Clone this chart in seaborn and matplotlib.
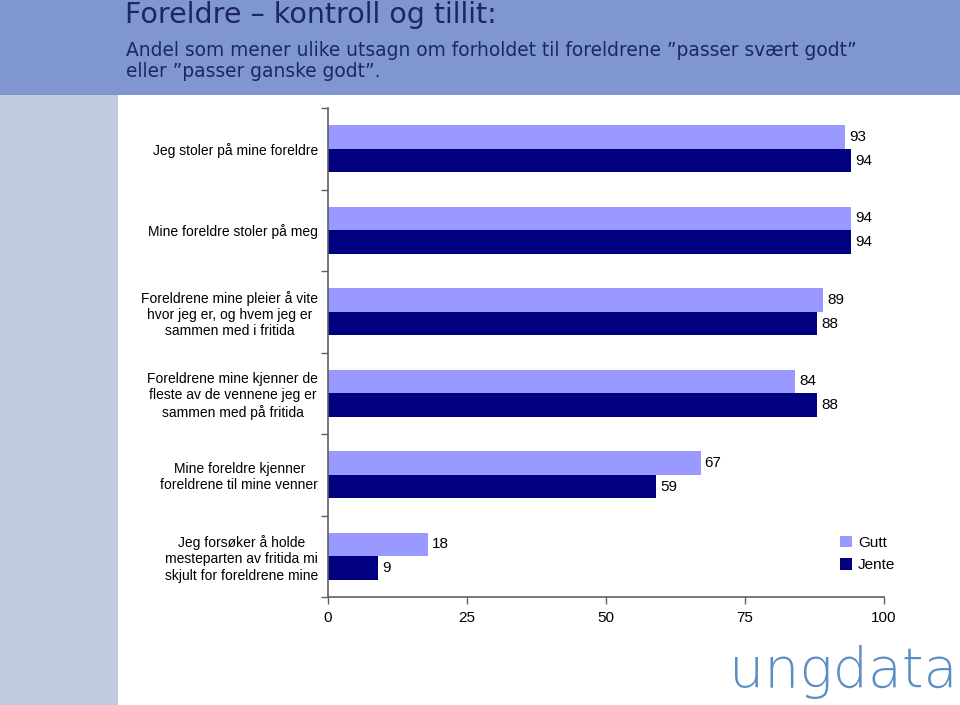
import pandas as pd
import seaborn as sns
import matplotlib.pyplot as plt
from matplotlib.patches import Rectangle


# DATA

categories = [
    "Jeg stoler på mine foreldre",
    "Mine foreldre stoler på meg",
    "Foreldrene mine pleier å vite\nhvor jeg er, og hvem jeg er\nsammen med i fritida",
    "Foreldrene mine kjenner de\nfleste av de vennene jeg er\nsammen med på fritida",
    "Mine foreldre kjenner\nforeldrene til mine venner",
    "Jeg forsøker å holde\nmesteparten av fritida mi\nskjult for foreldrene mine",
]
gutt = [93, 94, 89, 84, 67, 18]
jente = [94, 94, 88, 88, 59, 9]
groups = ["Gutt", "Jente"]
x_ticks = [0, 25, 50, 75, 100]

title = "Foreldre – kontroll og tillit:"
subtitle = "Andel som mener ulike utsagn om forholdet til foreldrene ”passer svært godt”\neller ”passer ganske godt”."

# long form for seaborn
df = pd.DataFrame({
    "utsagn": categories * 2,
    "andel": gutt + jente,
    "kjonn": [groups[0]] * len(categories) + [groups[1]] * len(categories),
})


# FIGURE

sns.set_style("white")
plt.rcParams["font.family"] = ["Liberation Sans", "DejaVu Sans"]

fig = plt.figure(figsize=(9.6, 7.05), dpi=100)
fig.patch.set_facecolor("white")

# header band and left strip
fig.patches.append(Rectangle((0, 1 - 95 / 705), 1, 95 / 705, transform=fig.transFigure,
                             facecolor="#8096d0", edgecolor="none", zorder=0))
fig.patches.append(Rectangle((0, 0), 118 / 960, 1 - 95 / 705, transform=fig.transFigure,
                             facecolor="#c2cadf", edgecolor="none", zorder=0))

fig.text(125 / 960, 1 - 15 / 705, title, family="DejaVu Sans", fontsize=20.5,
         color="#1c2566", va="center", ha="left")
fig.text(126 / 960, 1 - 61 / 705, subtitle, family="DejaVu Sans", fontsize=13.4,
         color="#1c2566", va="center", ha="left", linespacing=1.15)

# logo
fig.text(0.997, 1 - 672 / 705, "ungdata", family="DejaVu Sans", fontsize=40,
         color="#5b8ec6", va="center", ha="right", fontweight="light")

ax = fig.add_axes([328 / 960, 1 - 597 / 705, 556 / 960, 489 / 705])
ax.set_facecolor("white")

sns.barplot(data=df, y="utsagn", x="andel", hue="kjonn", orient="h",
            palette=["#9999ff", "#000080"], width=0.58, saturation=1,
            edgecolor="none", ax=ax)

for cont in ax.containers:
    ax.bar_label(cont, padding=3, fontsize=11, color="black")

ax.set_xlim(0, 100)
ax.set_ylim(len(categories) - 0.5, -0.5)
ax.set_xticks(x_ticks)
ax.set_xticklabels([str(t) for t in x_ticks], fontsize=11, color="black")
ax.set_yticks(range(len(categories)))
ax.set_yticklabels(categories, fontsize=10, multialignment="center", color="black")
ax.set_yticks([i - 0.5 for i in range(len(categories) + 1)], minor=True)
ax.tick_params(axis="y", which="major", length=0, pad=7)
ax.tick_params(axis="y", which="minor", length=5, width=1, color="#606060", direction="out", left=True)
ax.tick_params(axis="x", length=5, width=1, color="#606060", direction="out", bottom=True, pad=5)
ax.set_xlabel("")
ax.set_ylabel("")

for side in ["top", "right"]:
    ax.spines[side].set_visible(False)
for side in ["left", "bottom"]:
    ax.spines[side].set_color("#606060")
    ax.spines[side].set_linewidth(1.2)

ax.legend(loc="upper left", bbox_to_anchor=(832 / 960, 1 - 528 / 705),
          bbox_transform=fig.transFigure, frameon=False, fontsize=11,
          handlelength=0.8, handleheight=0.8, handletextpad=0.4,
          labelspacing=0.55, borderpad=0, title=None, labelcolor="black")

fig.savefig("out.png", dpi=100)
